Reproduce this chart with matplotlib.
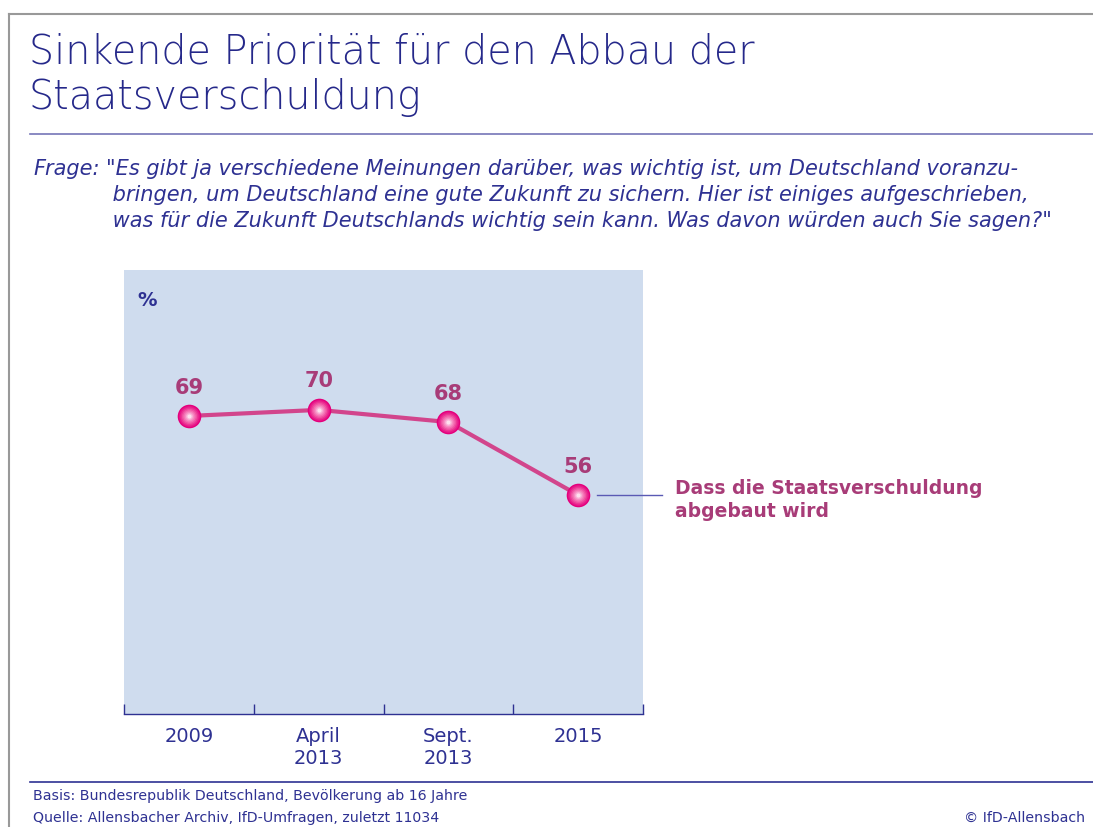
import matplotlib.pyplot as plt
from matplotlib.lines import Line2D

# data
periods = ["2009", "April\n2013", "Sept.\n2013", "2015"]
values = [69, 70, 68, 56]
series_label = "Dass die Staatsverschuldung\nabgebaut wird"

title = "Sinkende Priorität für den Abbau der\nStaatsverschuldung"
question_1 = "Frage:"
question_2 = ('"Es gibt ja verschiedene Meinungen darüber, was wichtig ist, um Deutschland voranzu-\n'
              ' bringen, um Deutschland eine gute Zukunft zu sichern. Hier ist einiges aufgeschrieben,\n'
              ' was für die Zukunft Deutschlands wichtig sein kann. Was davon würden auch Sie sagen?"')
footer = "Basis: Bundesrepublik Deutschland, Bevölkerung ab 16 Jahre\nQuelle: Allensbacher Archiv, IfD-Umfragen, zuletzt 11034"
copyright_txt = "© IfD-Allensbach"

BLUE = "#2e3192"
MAG = "#a83c78"
LINE = "#d2458c"
BG = "#cfdcee"

W, H = 1093, 828
fig = plt.figure(figsize=(W / 100, H / 100), dpi=100)
plt.rcParams['font.family'] = ['DejaVu Sans']

def fx(x):
    return x / W

def fy(y):
    return 1 - y / H

# frame lines
fig.add_artist(Line2D([fx(9), 1], [fy(15), fy(15)], color="#999999", lw=1.5))
fig.add_artist(Line2D([fx(9), fx(9)], [fy(15), 0], color="#999999", lw=1.5))
fig.add_artist(Line2D([fx(30), 1], [fy(135), fy(135)], color="#7676b8", lw=1.2))
fig.add_artist(Line2D([fx(30), 1], [fy(783), fy(783)], color=BLUE, lw=1.2))

fig.text(fx(29), fy(33), title, color="#25288a", fontsize=28.5, va="top", ha="left",
         linespacing=1.2, fontweight="light")
fig.text(fx(33), fy(159), question_1, color=BLUE, fontsize=15, style="italic", va="top")
fig.text(fx(106), fy(159), question_2, color=BLUE, fontsize=15, style="italic", va="top",
         linespacing=1.38)

fig.text(fx(33), fy(789), footer, color=BLUE, fontsize=10.2, va="top", linespacing=1.75)
fig.text(fx(1085), fy(811), copyright_txt, color=BLUE, fontsize=10.2, va="top", ha="right")

# plot area
ax = fig.add_axes([fx(124), fy(715), fx(643) - fx(124), (715 - 271) / H])
ax.set_facecolor(BG)
xs = [i + 0.5 for i in range(len(values))]
ax.plot(xs, values, color=LINE, lw=3, zorder=3, solid_capstyle="round")
# sphere-like markers: stacked discs, darker edge to light centre
layers = [(17, "#e4007c"), (15, "#e8188a"), (13, "#ec3595"), (11, "#f052a3"),
          (9, "#f470b3"), (7, "#f68ec3"), (5, "#f9b0d6"), (3, "#fde0ee")]
for z, (ms, col) in enumerate(layers):
    ax.plot(xs, values, "o", ms=ms, color=col, mew=0, zorder=4 + z)
for x, v in zip(xs, values):
    ax.annotate(str(v), (x, v), xytext=(0, 14), textcoords="offset points",
                ha="center", va="bottom", color=MAG, fontsize=15, fontweight="bold")

ax.set_xlim(0, 4)
ax.set_ylim(20, 93)
ax.set_yticks([])
for s in ["top", "left", "right"]:
    ax.spines[s].set_visible(False)
ax.spines["bottom"].set_color(BLUE)
ax.spines["bottom"].set_linewidth(1)
ax.set_xticks([0, 1, 2, 3, 4])
ax.set_xticklabels([])
ax.tick_params(axis="x", which="major", direction="in", length=7, color=BLUE, width=1)
ax.set_xticks(xs, minor=True)
ax.set_xticklabels(periods, minor=True)
ax.tick_params(axis="x", which="minor", length=0, pad=9, labelcolor=BLUE, labelsize=14)
for t in ax.get_xticklabels(minor=True):
    t.set_va("top")
    t.set_linespacing(1.2)

ax.text(0.026, 0.955, "%", transform=ax.transAxes, color=BLUE, fontsize=14,
        fontweight="bold", ha="left", va="top")

# series label with connector
fig.add_artist(Line2D([fx(597), fx(662)], [fy(496), fy(496)], color="#5a5ab4", lw=1))
fig.text(fx(675), fy(500), series_label, color=MAG, fontsize=13.5, fontweight="bold",
         va="center", ha="left", linespacing=1.3)

fig.savefig("out.png", dpi=100)
